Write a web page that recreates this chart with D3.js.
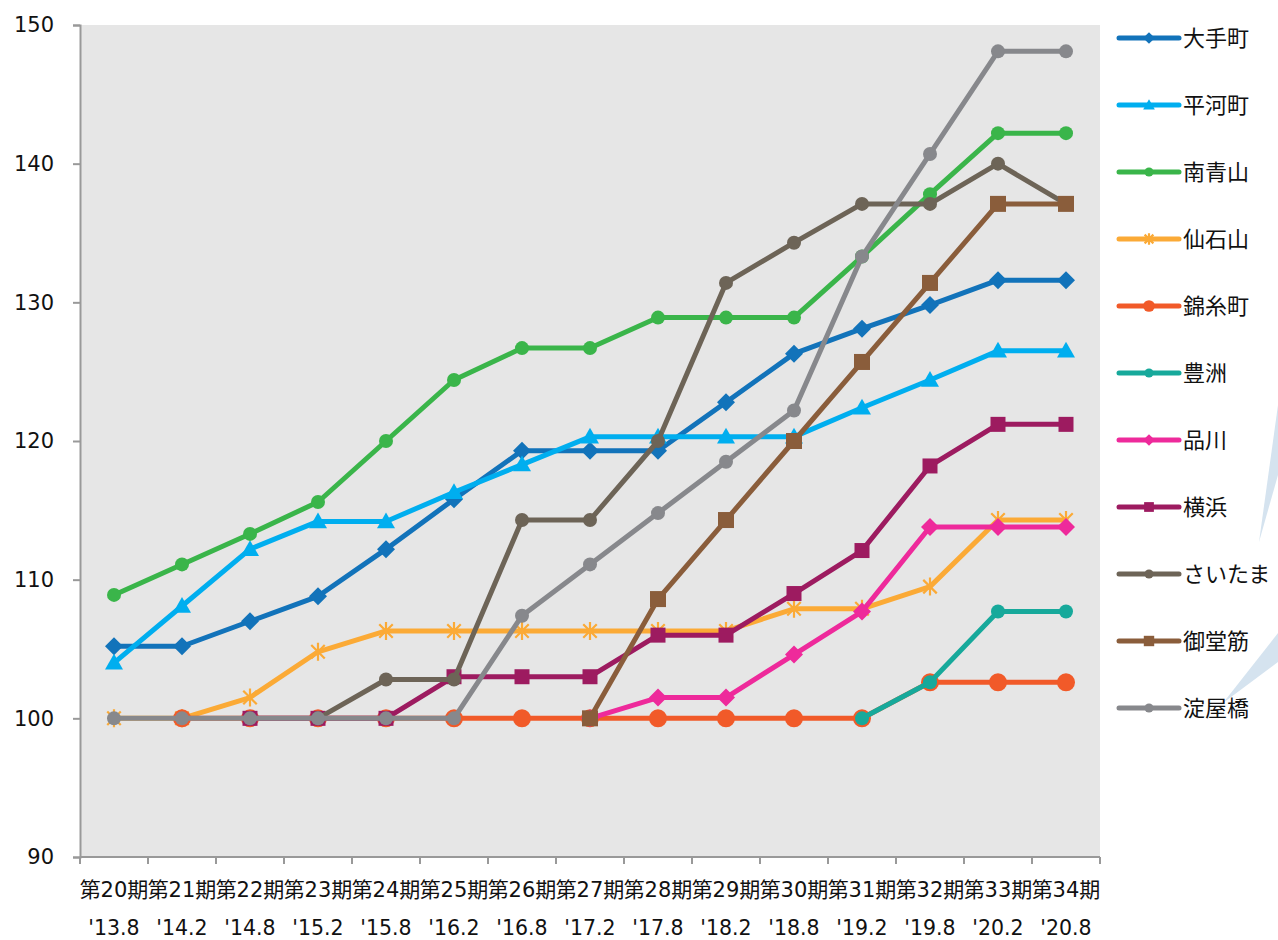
<!DOCTYPE html>
<html>
<head>
<meta charset="utf-8">
<script src="https://cdn.jsdelivr.net/npm/d3@7"></script>
<style>
  body { margin: 0; background: #fff; }
  svg { display: block; font-family: "DejaVu Sans", "Noto Sans CJK JP", sans-serif; }
</style>
</head>
<body>
<div id="chart"></div>
<script>
// index chart, 11 buildings

const periods = ['第20期', '第21期', '第22期', '第23期', '第24期', '第25期', '第26期', '第27期',
  '第28期', '第29期', '第30期', '第31期', '第32期', '第33期', '第34期']
const dates = ["'13.8", "'14.2", "'14.8", "'15.2", "'15.8", "'16.2", "'16.8", "'17.2",
  "'17.8", "'18.2", "'18.8", "'19.2", "'19.8", "'20.2", "'20.8"]
const yTicks = [90, 100, 110, 120, 130, 140, 150]

const otemachi = [105.2, 105.2, 107.0, 108.8, 112.2, 115.8, 119.3, 119.3, 119.3, 122.8, 126.3, 128.1, 129.8, 131.6, 131.6]
const hirakawacho = [104.0, 108.1, 112.2, 114.2, 114.2, 116.3, 118.3, 120.3, 120.3, 120.3, 120.3, 122.4, 124.4, 126.5, 126.5]
const minamiAoyama = [108.9, 111.1, 113.3, 115.6, 120.0, 124.4, 126.7, 126.7, 128.9, 128.9, 128.9, 133.3, 137.8, 142.2, 142.2]
const sengokuyama = [100, 100, 101.5, 104.8, 106.3, 106.3, 106.3, 106.3, 106.3, 106.3, 107.9, 107.9, 109.5, 114.3, 114.3]
const kinshicho = [null, 100, 100, 100, 100, 100, 100, 100, 100, 100, 100, 100, 102.6, 102.6, 102.6]
const toyosu = [null, null, null, null, null, null, null, null, null, null, null, 100, 102.6, 107.7, 107.7]
const shinagawa = [null, null, null, null, null, null, null, 100, 101.5, 101.5, 104.6, 107.7, 113.8, 113.8, 113.8]
const yokohama = [null, null, 100, 100, 100, 103.0, 103.0, 103.0, 106.0, 106.0, 109.0, 112.1, 118.2, 121.2, 121.2]
const saitama = [null, null, null, 100, 102.8, 102.8, 114.3, 114.3, 120.0, 131.4, 134.3, 137.1, 137.1, 140.0, 137.1]
const midosuji = [null, null, null, null, null, null, null, 100, 108.6, 114.3, 120.0, 125.7, 131.4, 137.1, 137.1]
const yodoyabashi = [100, 100, 100, 100, 100, 100, 107.4, 111.1, 114.8, 118.5, 122.2, 133.3, 140.7, 148.1, 148.1]

const series = [
  { name: '大手町', values: otemachi, color: '#1273ba', marker: 'diamond', size: 9 },
  { name: '平河町', values: hirakawacho, color: '#00aeef', marker: 'triangle', size: 9 },
  { name: '南青山', values: minamiAoyama, color: '#3ab54a', marker: 'circle', size: 7 },
  { name: '仙石山', values: sengokuyama, color: '#fbaa36', marker: 'star', size: 9 },
  { name: '錦糸町', values: kinshicho, color: '#f15a29', marker: 'circle', size: 9 },
  { name: '豊洲', values: toyosu, color: '#17a99b', marker: 'circle', size: 7 },
  { name: '品川', values: shinagawa, color: '#ee2a9b', marker: 'diamond', size: 9 },
  { name: '横浜', values: yokohama, color: '#9d1b60', marker: 'square', size: 7.5 },
  { name: 'さいたま', values: saitama, color: '#6d6457', marker: 'circle', size: 7 },
  { name: '御堂筋', values: midosuji, color: '#8a5d3b', marker: 'square', size: 8 },
  { name: '淀屋橋', values: yodoyabashi, color: '#87888c', marker: 'circle', size: 7 }
]

const width = 1278
const height = 940
const margin = { top: 25, right: 178, bottom: 83, left: 80 }

const svg = d3.select('#chart').append('svg')
  .attr('width', width).attr('height', height)

// callout fragments behind legend
const callouts = [
  [[1278, 405], [1259, 542], [1278, 475]],
  [[1278, 633], [1223, 703], [1278, 662]]
]
svg.append('g').selectAll('polygon')
  .data(callouts)
  .join('polygon')
  .attr('points', d => d.map(p => p.join(',')).join(' '))
  .attr('fill', '#d5e3ef')

const x = d3.scaleBand().domain(periods).range([margin.left, width - margin.right])
const y = d3.scaleLinear().domain([90, 150]).range([height - margin.bottom, margin.top])
const cx = i => x(periods[i]) + x.bandwidth() / 2

// plot background
svg.append('rect')
  .attr('x', margin.left).attr('y', y(150))
  .attr('width', x.range()[1] - margin.left)
  .attr('height', y(90) - y(150))
  .attr('fill', '#e6e6e6')

// y axis
const yAxis = svg.append('g')
  .attr('transform', 'translate(' + margin.left + ',0)')
  .call(d3.axisLeft(y).tickValues(yTicks).tickSize(7).tickPadding(19))
  .attr('font-family', null)
yAxis.selectAll('text').attr('font-size', 21).attr('fill', '#111')
yAxis.selectAll('line, path').attr('stroke', '#999').attr('stroke-width', 2)

// x axis, ticks on band boundaries
const xg = svg.append('g').attr('transform', 'translate(0,' + y(90) + ')')
xg.append('line')
  .attr('x1', margin.left).attr('x2', x.range()[1])
  .attr('stroke', '#999').attr('stroke-width', 2)
xg.selectAll('line.tick')
  .data(d3.range(periods.length + 1))
  .join('line')
  .attr('class', 'tick')
  .attr('x1', i => margin.left + i * x.step())
  .attr('x2', i => margin.left + i * x.step())
  .attr('y1', 0).attr('y2', 7)
  .attr('stroke', '#999').attr('stroke-width', 2)
xg.selectAll('text.period')
  .data(periods)
  .join('text')
  .attr('class', 'period')
  .attr('x', (d, i) => cx(i))
  .attr('y', 33)
  .attr('dy', '0.35em')
  .attr('text-anchor', 'middle')
  .attr('font-size', 21)
  .attr('fill', '#111')
  .text(d => d)
xg.selectAll('text.date')
  .data(dates)
  .join('text')
  .attr('class', 'date')
  .attr('x', (d, i) => cx(i))
  .attr('y', 71)
  .attr('dy', '0.35em')
  .attr('text-anchor', 'middle')
  .attr('font-size', 20.5)
  .attr('fill', '#111')
  .text(d => d)

function drawMarker (g, s, px, py, scale) {
  const r = s.size * scale
  if (s.marker === 'circle') {
    g.append('circle').attr('cx', px).attr('cy', py).attr('r', r).attr('fill', s.color)
  } else if (s.marker === 'square') {
    g.append('rect').attr('x', px - r).attr('y', py - r)
      .attr('width', 2 * r).attr('height', 2 * r).attr('fill', s.color)
  } else if (s.marker === 'diamond') {
    g.append('path')
      .attr('d', 'M' + px + ',' + (py - r) + 'L' + (px + r) + ',' + py + 'L' + px + ',' + (py + r) + 'L' + (px - r) + ',' + py + 'Z')
      .attr('fill', s.color)
  } else if (s.marker === 'triangle') {
    g.append('path')
      .attr('d', 'M' + px + ',' + (py - r) + 'L' + (px + r) + ',' + (py + r * 0.75) + 'L' + (px - r) + ',' + (py + r * 0.75) + 'Z')
      .attr('fill', s.color)
  } else if (s.marker === 'star') {
    const k = r * 0.75
    g.append('path')
      .attr('d', 'M' + px + ',' + (py - r) + 'V' + (py + r) +
        'M' + (px - k) + ',' + (py - k) + 'L' + (px + k) + ',' + (py + k) +
        'M' + (px + k) + ',' + (py - k) + 'L' + (px - k) + ',' + (py + k))
      .attr('stroke', s.color).attr('stroke-width', 2.2).attr('fill', 'none')
  }
}

// lines + markers
const line = d3.line()
  .defined(d => d != null)
  .x((d, i) => cx(i))
  .y(d => y(d))

const lg = svg.append('g').attr('class', 'lines')
series.forEach(s => {
  const g = lg.append('g')
  g.append('path')
    .attr('d', line(s.values))
    .attr('fill', 'none')
    .attr('stroke', s.color)
    .attr('stroke-width', 5)
    .attr('stroke-linejoin', 'round')
    .attr('stroke-linecap', 'round')
  s.values.forEach((v, i) => {
    if (v != null) drawMarker(g, s, cx(i), y(v), 1)
  })
})

// legend
const leg = svg.append('g').attr('class', 'legend')
series.forEach((s, i) => {
  const ly = 38 + i * 67
  const g = leg.append('g')
  g.append('line')
    .attr('x1', 1119).attr('x2', 1179)
    .attr('y1', ly).attr('y2', ly)
    .attr('stroke', s.color).attr('stroke-width', 5)
    .attr('stroke-linecap', 'round')
  drawMarker(g, s, 1149, ly, 0.65)
  g.append('text')
    .attr('x', 1183).attr('y', ly)
    .attr('dy', '0.35em')
    .attr('font-size', 22)
    .attr('fill', '#111')
    .text(s.name)
})
</script>
</body>
</html>
